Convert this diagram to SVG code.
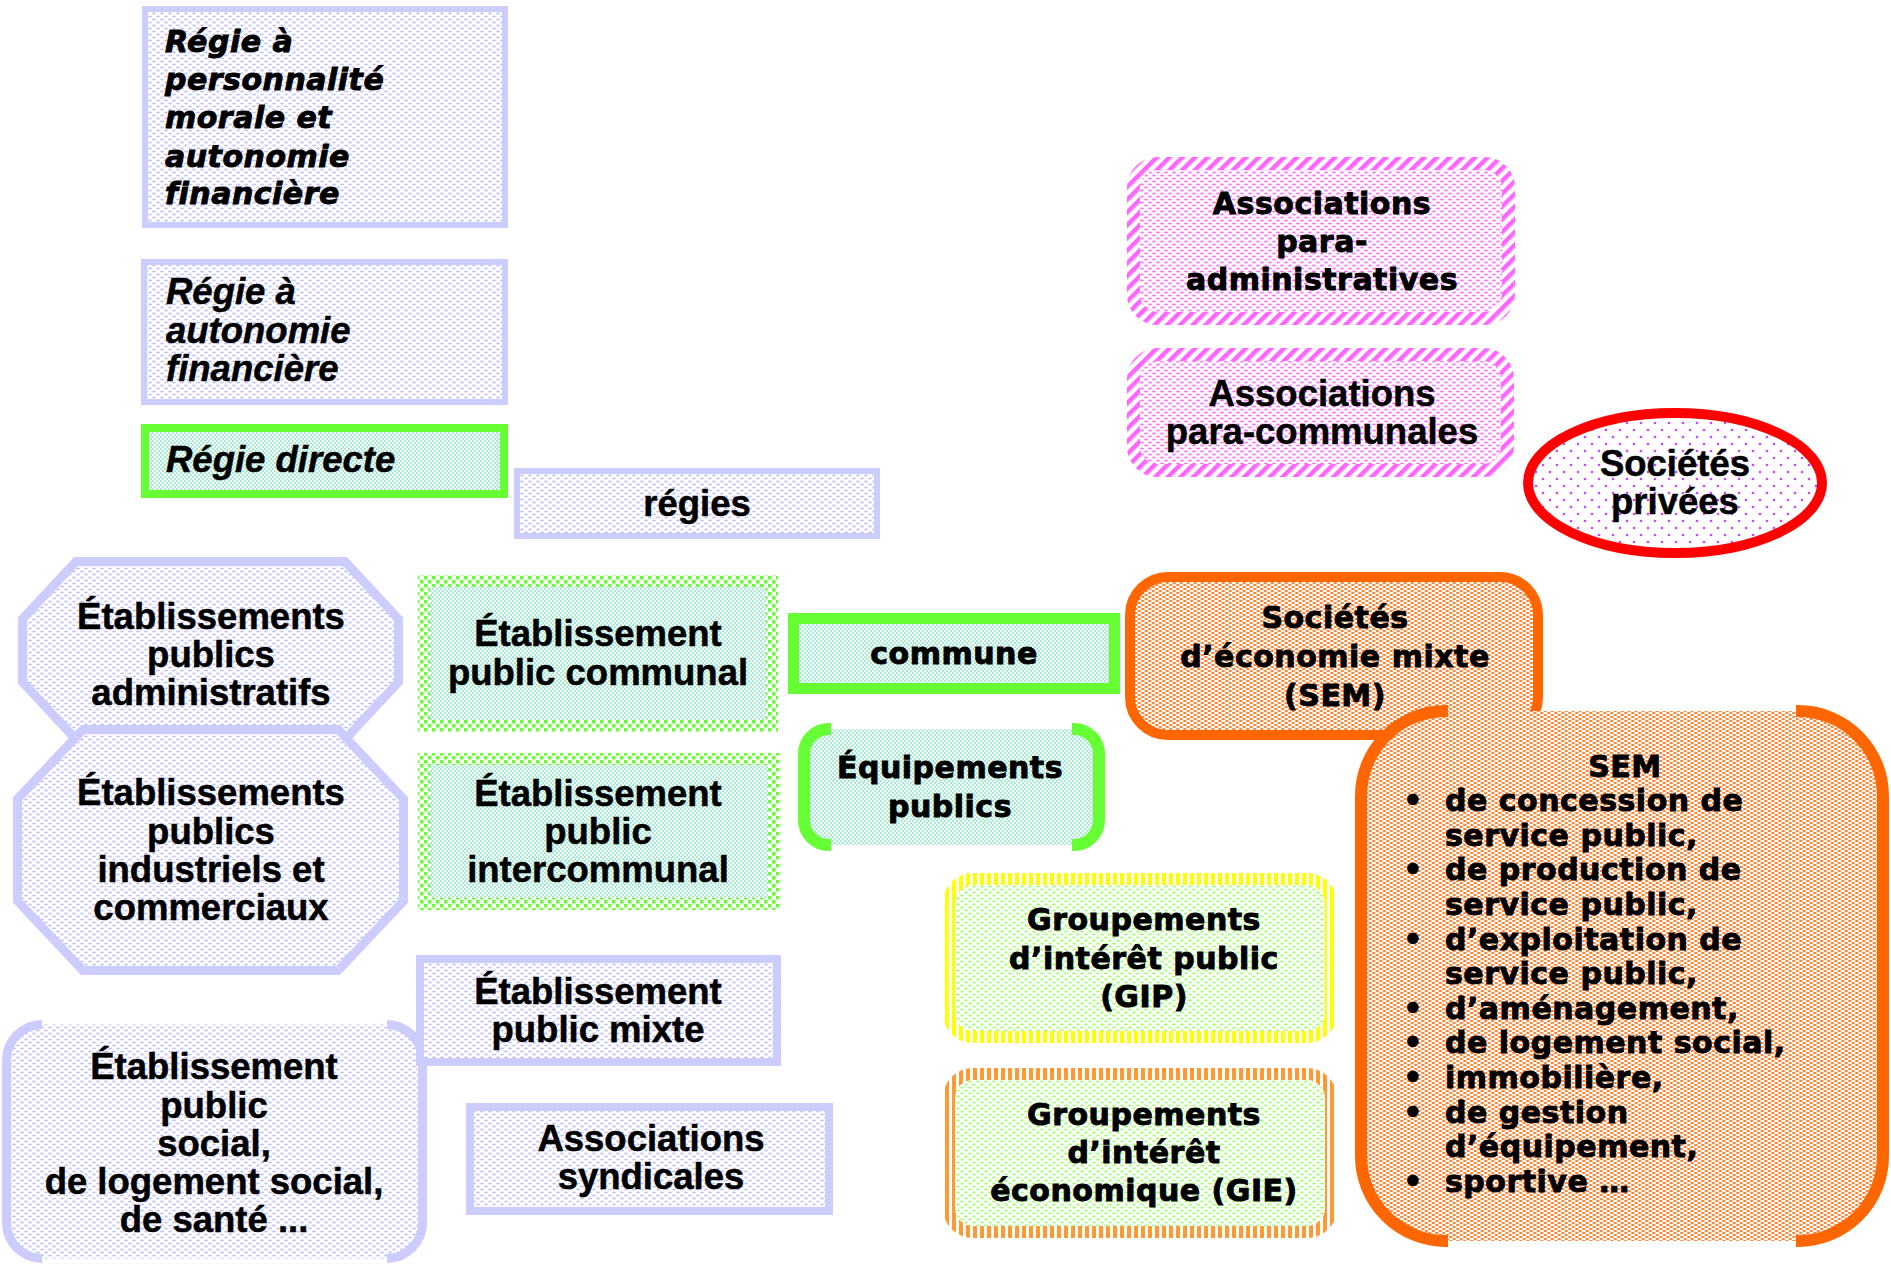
<svg xmlns="http://www.w3.org/2000/svg" width="1891" height="1265" viewBox="0 0 1891 1265">
<style>
.c{font-family:"Liberation Sans",Arial,sans-serif;font-weight:bold;font-size:36.5px;fill:#000;stroke:#000;stroke-width:0.5px}
.w{font-family:"DejaVu Sans",sans-serif;font-weight:bold;font-size:30px;letter-spacing:0.5px;fill:#000;stroke:#000;stroke-width:0.9px}
.i{font-style:italic}
.m{text-anchor:middle}
.lav{stroke:#CCCCFF;fill:url(#pLav)}
.grn{stroke:#66FF33;fill:url(#pTeal)}
</style>
<defs>
<pattern id="pLav" width="8" height="6" patternUnits="userSpaceOnUse"><rect width="8" height="6" fill="#fff"/><ellipse cx="2" cy="1.5" rx="2" ry="0.9" fill="#C6C6F8"/><ellipse cx="6" cy="4.5" rx="2" ry="0.9" fill="#C6C6F8"/></pattern>
<pattern id="pTeal" width="4" height="4" patternUnits="userSpaceOnUse"><rect width="4" height="4" fill="#F6FDFA"/><circle cx="1" cy="1" r="0.75" fill="#3DCFA0"/><circle cx="3" cy="3" r="0.75" fill="#3DCFA0"/></pattern>
<pattern id="pOr" width="7" height="4" patternUnits="userSpaceOnUse"><rect width="7" height="4" fill="#fff"/><ellipse cx="1.75" cy="1" rx="1.9" ry="0.9" fill="#FF7A22"/><ellipse cx="5.25" cy="3" rx="1.9" ry="0.9" fill="#FF7A22"/></pattern>
<pattern id="pPink" width="8" height="6" patternUnits="userSpaceOnUse"><rect width="8" height="6" fill="#fff"/><ellipse cx="2" cy="1.5" rx="2" ry="1" fill="#FF77FF"/><ellipse cx="6" cy="4.5" rx="2" ry="1" fill="#FF77FF"/></pattern>
<pattern id="pGrn" width="8" height="6" patternUnits="userSpaceOnUse"><rect width="8" height="6" fill="#fff"/><ellipse cx="2" cy="1.5" rx="2" ry="1" fill="#A6FF77"/><ellipse cx="6" cy="4.5" rx="2" ry="1" fill="#A6FF77"/></pattern>
<pattern id="pPur" width="14" height="14" patternUnits="userSpaceOnUse"><rect width="14" height="14" fill="#fff"/><circle cx="3" cy="3" r="1.3" fill="#CC44FF"/><circle cx="10" cy="10" r="1.3" fill="#CC44FF"/></pattern>
<pattern id="pGB" width="8" height="8" patternUnits="userSpaceOnUse"><rect width="8" height="8" fill="#fff"/><rect width="3.5" height="3.5" fill="#66FF33"/><rect x="4" y="4" width="3.5" height="3.5" fill="#66FF33"/></pattern>
<pattern id="pPS" width="9" height="9" patternUnits="userSpaceOnUse" patternTransform="rotate(45)"><rect width="9" height="9" fill="#fff"/><rect width="4.5" height="9" fill="#FF66FF"/></pattern>
<pattern id="pYS" width="7" height="7" patternUnits="userSpaceOnUse"><rect width="7" height="7" fill="#fff"/><rect width="4" height="7" fill="#FFFF00"/></pattern>
<pattern id="pOS" width="7" height="7" patternUnits="userSpaceOnUse"><rect width="7" height="7" fill="#fff"/><rect width="4" height="7" fill="#FF9933"/></pattern>
</defs>
<rect width="1891" height="1265" fill="#fff"/>

<g id="regie-personnalite">
<rect class="lav" x="145" y="9" width="360" height="216" stroke-width="6"/>
<text class="w i"><tspan x="165" y="52">Régie à</tspan><tspan x="165" y="90">personnalité</tspan><tspan x="165" y="128">morale et</tspan><tspan x="165" y="167">autonomie</tspan><tspan x="165" y="204">financière</tspan></text>
</g>

<g id="regie-autonomie">
<rect class="lav" x="144" y="262" width="361" height="140" stroke-width="6"/>
<text class="c i"><tspan x="166" y="304">Régie à</tspan><tspan x="166" y="343">autonomie</tspan><tspan x="166" y="381">financière</tspan></text>
</g>

<g id="regie-directe">
<rect class="grn" x="145" y="428" width="359" height="66" stroke-width="8"/>
<text class="c i" x="166" y="472">Régie directe</text>
</g>

<g id="regies">
<rect class="lav" x="517" y="471" width="360" height="65" stroke-width="6"/>
<text class="c m" x="697" y="516">régies</text>
</g>

<g id="assoc-para-admin">
<rect x="1133.5" y="163.5" width="375" height="155" rx="24" fill="url(#pPink)" stroke="url(#pPS)" stroke-width="13"/>
<text class="w m"><tspan x="1322" y="214">Associations</tspan><tspan x="1322" y="252">para-</tspan><tspan x="1322" y="290">administratives</tspan></text>
</g>

<g id="assoc-para-communales">
<rect x="1133.5" y="354.5" width="374" height="116" rx="24" fill="url(#pPink)" stroke="url(#pPS)" stroke-width="13"/>
<text class="c m"><tspan x="1322" y="406">Associations</tspan><tspan x="1322" y="444">para-communales</tspan></text>
</g>

<g id="societes-privees">
<ellipse cx="1675" cy="483" rx="147" ry="70" fill="url(#pPur)" stroke="#FF0000" stroke-width="10"/>
<text class="c m"><tspan x="1675" y="476">Sociétés</tspan><tspan x="1675" y="514">privées</tspan></text>
</g>

<g id="ep-administratifs">
<polygon class="lav" stroke-width="9" points="76,561.5 345,561.5 398.5,619 398.5,682 345,739.5 76,739.5 22.5,682 22.5,619"/>
<text class="c m"><tspan x="211" y="629">Établissements</tspan><tspan x="211" y="667">publics</tspan><tspan x="211" y="705">administratifs</tspan></text>
</g>

<g id="ep-industriels">
<polygon class="lav" stroke-width="9" points="83,729.5 338,729.5 403.5,799 403.5,901 338,970.5 83,970.5 17.5,901 17.5,799"/>
<text class="c m"><tspan x="211" y="805">Établissements</tspan><tspan x="211" y="844">publics</tspan><tspan x="211" y="882">industriels et</tspan><tspan x="211" y="920">commerciaux</tspan></text>
</g>

<g id="ep-communal">
<rect x="424" y="581" width="348" height="145" fill="url(#pTeal)" stroke="url(#pGB)" stroke-width="12"/>
<text class="c m"><tspan x="598" y="646">Établissement</tspan><tspan x="598" y="685">public communal</tspan></text>
</g>

<g id="ep-intercommunal">
<rect x="424" y="759" width="350" height="145" fill="url(#pTeal)" stroke="url(#pGB)" stroke-width="12"/>
<text class="c m"><tspan x="598" y="806">Établissement</tspan><tspan x="598" y="844">public</tspan><tspan x="598" y="882">intercommunal</tspan></text>
</g>

<g id="commune">
<rect class="grn" x="793.5" y="618.5" width="321" height="70" stroke-width="11"/>
<text class="w m" x="954" y="664">commune</text>
</g>

<g id="equipements-publics">
<rect x="804" y="729" width="295" height="116" rx="25" fill="url(#pTeal)"/>
<path d="M831,729 H829 A25,25 0 0 0 804,754 V820 A25,25 0 0 0 829,845 H831 M1072,729 H1074 A25,25 0 0 1 1099,754 V820 A25,25 0 0 1 1074,845 H1072" fill="none" stroke="#66FF33" stroke-width="12"/>
<text class="w m"><tspan x="950" y="778">Équipements</tspan><tspan x="950" y="817">publics</tspan></text>
</g>

<g id="sem">
<rect x="1130" y="577" width="408" height="158" rx="38" fill="url(#pOr)" stroke="#FF6600" stroke-width="10"/>
<text class="w m"><tspan x="1335" y="628">Sociétés</tspan><tspan x="1335" y="667">d’économie mixte</tspan><tspan x="1335" y="706">(SEM)</tspan></text>
</g>

<g id="sem-types">
<rect x="1361" y="711" width="522" height="530" rx="85" fill="url(#pOr)"/>
<path d="M1448,711 H1446 A85,85 0 0 0 1361,796 V1156 A85,85 0 0 0 1446,1241 H1448 M1796,711 H1798 A85,85 0 0 1 1883,796 V1156 A85,85 0 0 1 1798,1241 H1796" fill="none" stroke="#FF6600" stroke-width="12"/>
<text class="w m" x="1625" y="777">SEM</text>
<g class="w">
<text x="1413" y="811" text-anchor="middle">•</text>
<text x="1413" y="880" text-anchor="middle">•</text>
<text x="1413" y="950" text-anchor="middle">•</text>
<text x="1413" y="1019" text-anchor="middle">•</text>
<text x="1413" y="1053" text-anchor="middle">•</text>
<text x="1413" y="1088" text-anchor="middle">•</text>
<text x="1413" y="1123" text-anchor="middle">•</text>
<text x="1413" y="1192" text-anchor="middle">•</text>
</g>
<text class="w"><tspan x="1445" y="811">de concession de</tspan><tspan x="1445" y="846">service public,</tspan><tspan x="1445" y="880">de production de</tspan><tspan x="1445" y="915">service public,</tspan><tspan x="1445" y="950">d’exploitation de</tspan><tspan x="1445" y="984">service public,</tspan><tspan x="1445" y="1019">d’aménagement,</tspan><tspan x="1445" y="1053">de logement social,</tspan><tspan x="1445" y="1088">immobilière,</tspan><tspan x="1445" y="1123">de gestion</tspan><tspan x="1445" y="1157">d’équipement,</tspan><tspan x="1445" y="1192">sportive …</tspan></text>
</g>

<g id="gip">
<rect x="949" y="879" width="382" height="158" rx="24" fill="url(#pGrn)" stroke="url(#pYS)" stroke-width="12"/>
<text class="w m"><tspan x="1144" y="930">Groupements</tspan><tspan x="1144" y="969">d’intérêt public</tspan><tspan x="1144" y="1007">(GIP)</tspan></text>
</g>

<g id="gie">
<rect x="949" y="1074" width="382" height="158" rx="24" fill="url(#pGrn)" stroke="url(#pOS)" stroke-width="12"/>
<text class="w m"><tspan x="1144" y="1125">Groupements</tspan><tspan x="1144" y="1163">d’intérêt</tspan><tspan x="1144" y="1201">économique (GIE)</tspan></text>
</g>

<g id="ep-social">
<rect x="6.5" y="1024.5" width="416" height="234" rx="36" fill="url(#pLav)"/>
<path d="M42,1024.5 A36,36 0 0 0 6.5,1060 V1222 A36,36 0 0 0 42,1258.5 M387,1024.5 A36,36 0 0 1 422.5,1060 V1222 A36,36 0 0 1 387,1258.5" fill="none" stroke="#CCCCFF" stroke-width="9"/>
<text class="c m"><tspan x="214" y="1079">Établissement</tspan><tspan x="214" y="1118">public</tspan><tspan x="214" y="1156">social,</tspan><tspan x="214" y="1194">de logement social,</tspan><tspan x="214" y="1232">de santé ...</tspan></text>
</g>

<g id="ep-mixte">
<rect class="lav" x="420" y="959" width="357" height="103" stroke-width="8"/>
<text class="c m"><tspan x="598" y="1004">Établissement</tspan><tspan x="598" y="1042">public mixte</tspan></text>
</g>

<g id="assoc-syndicales">
<rect class="lav" x="470" y="1107" width="359" height="104" stroke-width="8"/>
<text class="c m"><tspan x="651" y="1151">Associations</tspan><tspan x="651" y="1189">syndicales</tspan></text>
</g>

<g id="connectors"/>
</svg>
